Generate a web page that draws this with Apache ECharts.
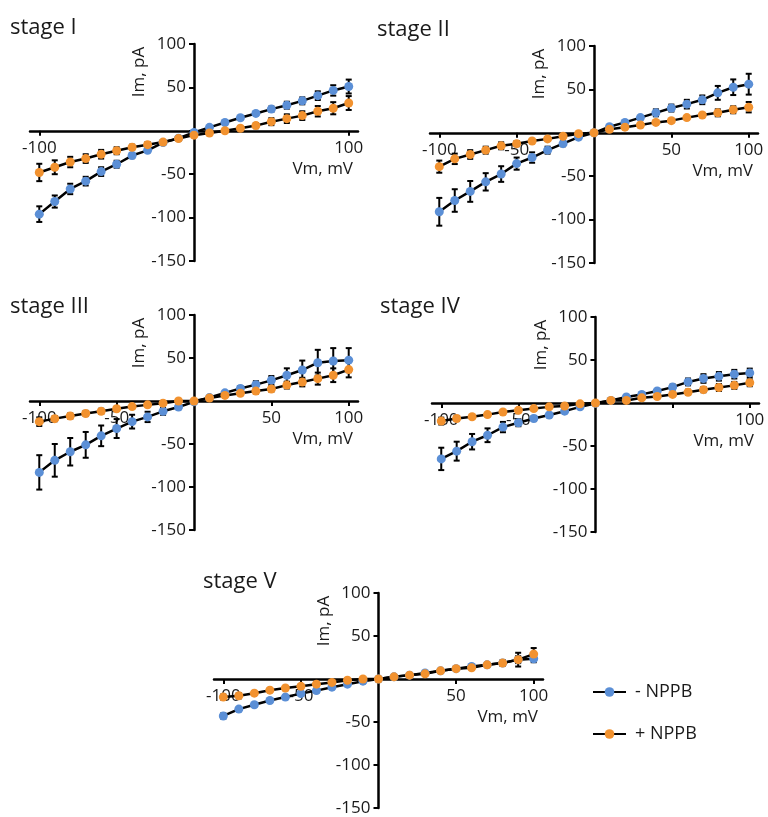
<!DOCTYPE html>
<html>
<head>
<meta charset="utf-8">
<script src="https://cdn.jsdelivr.net/npm/echarts@6/dist/echarts.min.js"></script>
<style>
  html, body { margin: 0; padding: 0; background: #fff; }
  #main { width: 768px; height: 817px; }
</style>
</head>
<body>
<div id="main"></div>
<script>
var voltages = [-100, -90, -80, -70, -60, -50, -40, -30, -20, -10, 0, 10, 20, 30, 40, 50, 60, 70, 80, 90, 100];

var stageNames = ['stage I', 'stage II', 'stage III', 'stage IV', 'stage V'];
var seriesNames = ['- NPPB', '+ NPPB'];
var yTicks = [-150, -100, -50, 0, 50, 100];

// x tick / label values per panel
var xTickValues = [[-100, 100], [-100, -50, 50, 100], [-100, -50, 50, 100], [-100, -50, 50, 100], [-100, -50, 50, 100]];
var xLabelValues = [[-100, 100], [-100, -50, 50, 100], [-100, -50, 50, 100], [-100, -50, 100], [-100, -50, 50, 100]];

// stage I
var blue1 = [-96, -81.5, -67, -58, -47, -38.5, -28.5, -22.5, -13.5, -8.5, -2, 4, 9.5, 15, 20, 25, 29.5, 34.5, 40.5, 46.5, 51];
var blue1Err = [9, 7, 6, 5, 5, 4, 3, 2, 2, 2, 1, 1, 1, 2, 2, 3, 4, 4, 5, 6, 8];
var orange1 = [-48, -42, -36, -32, -27, -23, -19, -16, -13, -9, -5, -2.5, 0, 3, 6, 10.5, 14, 17.5, 22.5, 26, 32];
var orange1Err = [10, 8, 6, 5, 5, 4, 3, 3, 2, 2, 1, 1, 1, 2, 3, 4, 5, 5, 6, 7, 8];

// stage II
var blue2 = [-91, -78, -67.5, -56.5, -47.5, -35.5, -28.5, -20, -12.5, -5, 0, 7, 12, 17.5, 23, 28.5, 33, 38, 46, 52.5, 56];
var blue2Err = [16, 13, 12, 10, 9, 7, 6, 4, 3, 2, 1, 2, 2, 2, 4, 4, 5, 5, 8, 9, 12];
var orange2 = [-39, -30, -25, -20, -15, -12.5, -9.5, -7, -4, -1, 0, 4, 6.5, 9, 12, 14, 17.5, 20.5, 23, 26.5, 29.5];
var orange2Err = [7, 6, 5, 4, 4, 3, 2, 2, 1, 1, 1, 1, 1, 2, 2, 2, 2, 2, 4, 4, 6];

// stage III
var blue3 = [-83, -69, -59, -51, -40.5, -32, -24, -18.5, -12, -7, -1, 4, 9.5, 14.5, 19, 24, 30, 36, 44.5, 46.5, 47.5];
var blue3Err = [20, 19, 16, 15, 12, 11, 8, 6, 4, 2, 1, 1, 2, 3, 4, 5, 8, 11, 15, 15, 14];
var orange3 = [-24, -20.5, -17.5, -14.5, -12, -9, -6.5, -4.5, -2.5, 0, 0, 3.5, 6.5, 9, 11.5, 14, 18.5, 22, 26, 30, 36.5];
var orange3Err = [5, 3, 3, 3, 3, 2, 2, 2, 1, 1, 1, 1, 1, 2, 3, 3, 4, 5, 7, 8, 9];

// stage IV
var blue4 = [-65, -56, -45, -37.5, -28, -23, -18, -14, -9.5, -4.5, -0.5, 3, 7, 10, 14, 18.5, 24.5, 28.5, 31, 33.5, 35];
var blue4Err = [13, 11, 9, 8, 6, 4, 3, 2, 2, 1, 1, 1, 1, 2, 2, 3, 4, 5, 5, 5, 5];
var orange4 = [-21, -18, -16, -13.5, -10.5, -8.5, -6.5, -4.5, -3.5, -1, 0, 3, 3, 6, 7.5, 10, 12.5, 15.5, 18, 20.5, 23.5];
var orange4Err = [4, 3, 2, 2, 2, 2, 2, 1, 1, 1, 1, 1, 1, 1, 2, 2, 3, 3, 4, 4, 4];

// stage V
var blue5 = [-43, -35, -30, -25, -21, -17, -13.5, -9.5, -6, -2.5, 0, 2.5, 4.5, 7, 9.5, 12, 14.5, 16.5, 18.5, 22.5, 23.5];
var blue5Err = [3, 2, 2, 2, 2, 2, 2, 1, 1, 1, 1, 1, 1, 1, 1, 1, 2, 2, 3, 4, 4];
var orange5 = [-21, -19.5, -16.5, -13, -10.5, -8.5, -6, -4, -1.5, 0, 0, 2.5, 4.5, 6, 9.5, 12, 13, 16.5, 18.5, 22.5, 29];
var orange5Err = [3, 3, 2, 2, 2, 2, 2, 1, 1, 1, 1, 1, 1, 1, 1, 1, 2, 2, 3, 8, 7];

var blueData = [blue1, blue2, blue3, blue4, blue5];
var blueErr = [blue1Err, blue2Err, blue3Err, blue4Err, blue5Err];
var orangeData = [orange1, orange2, orange3, orange4, orange5];
var orangeErr = [orange1Err, orange2Err, orange3Err, orange4Err, orange5Err];

var BLUE = '#5b8fd6';
var ORANGE = '#f2922f';
var FONT = '"Open Sans", "Noto Sans", sans-serif';
var X_MIN = -106, X_MAX = 106, Y_MIN = -150, Y_MAX = 100;

var grids = [
  { left: 30, top: 44, width: 328, height: 217 },
  { left: 430, top: 46, width: 328, height: 217 },
  { left: 30, top: 315, width: 328, height: 215 },
  { left: 432, top: 317, width: 327, height: 215 },
  { left: 214, top: 593, width: 329, height: 215 }
];
grids.forEach(function (g) { g.outerBoundsMode = 'none'; g.containLabel = false; });
var titlePos = [[10, 17], [377, 19], [10, 296], [380, 296], [203, 571]];

function renderErr(params, api) {
  var x = api.value(0);
  var lo = api.coord([x, api.value(1)]);
  var hi = api.coord([x, api.value(2)]);
  var w = 3;
  var st = { stroke: '#000', lineWidth: 2 };
  return {
    type: 'group',
    children: [
      { type: 'line', shape: { x1: hi[0], y1: hi[1], x2: lo[0], y2: lo[1] }, style: st },
      { type: 'line', shape: { x1: hi[0] - w, y1: hi[1], x2: hi[0] + w, y2: hi[1] }, style: st },
      { type: 'line', shape: { x1: lo[0] - w, y1: lo[1], x2: lo[0] + w, y2: lo[1] }, style: st }
    ]
  };
}

var chart = echarts.init(document.getElementById('main'));

var titles = [], xAxes = [], yAxes = [], series = [];
stageNames.forEach(function (name, i) {
  var g = grids[i];
  // axes cross at (0, 0): shift them inside the grid with offsets
  var yOff = -g.width * (0 - X_MIN) / (X_MAX - X_MIN);
  var xOff = -g.height * (0 - Y_MIN) / (Y_MAX - Y_MIN);
  titles.push({
    text: name, left: titlePos[i][0], top: titlePos[i][1], padding: 0,
    textStyle: { fontFamily: FONT, fontSize: 22, fontWeight: 'normal', color: '#1a1a1a' }
  });
  xAxes.push({
    type: 'value', gridIndex: i, min: X_MIN, max: X_MAX, position: 'bottom', offset: xOff,
    name: 'Vm, mV', nameLocation: 'end', nameGap: -5, nameMoveOverlap: false,
    nameTextStyle: { fontFamily: FONT, fontSize: 17, color: '#1a1a1a', align: 'right', verticalAlign: 'top', padding: [30, 0, 0, 0] },
    axisLine: { onZero: false, lineStyle: { color: '#000', width: 2.5 } },
    axisTick: { show: true, length: 5, customValues: xTickValues[i], lineStyle: { color: '#000', width: 2 } },
    axisLabel: { customValues: xLabelValues[i], margin: 9, fontFamily: FONT, fontSize: 17, color: '#1a1a1a' },
    splitLine: { show: false }
  });
  yAxes.push({
    type: 'value', gridIndex: i, min: Y_MIN, max: Y_MAX, interval: 50, position: 'left', offset: yOff,
    name: 'Im, pA', nameLocation: 'end', nameRotate: 90, nameGap: -28, nameMoveOverlap: false,
    nameTextStyle: { fontFamily: FONT, fontSize: 17, color: '#1a1a1a', align: 'center', verticalAlign: 'bottom', padding: [0, 0, 46, 0] },
    axisLine: { onZero: false, lineStyle: { color: '#000', width: 2.5 } },
    axisTick: { show: true, length: 5, customValues: yTicks, lineStyle: { color: '#000', width: 2 } },
    axisLabel: { customValues: yTicks.filter(function (v) { return v !== 0; }), margin: 8, fontFamily: FONT, fontSize: 17, color: '#1a1a1a' },
    splitLine: { show: false }
  });

  [[blueData[i], blueErr[i], BLUE, seriesNames[0]], [orangeData[i], orangeErr[i], ORANGE, seriesNames[1]]].forEach(function (s) {
    series.push({
      type: 'custom', xAxisIndex: i, yAxisIndex: i, z: 1,
      renderItem: renderErr,
      encode: { x: 0, y: [1, 2] },
      data: voltages.map(function (v, k) { return [v, s[0][k] - s[1][k], s[0][k] + s[1][k]]; }),
      silent: true
    });
    series.push({
      type: 'line', name: s[3], xAxisIndex: i, yAxisIndex: i, z: 3,
      data: voltages.map(function (v, k) { return [v, s[0][k]]; }),
      symbol: 'circle', symbolSize: 9,
      itemStyle: { color: s[2] },
      lineStyle: { color: '#000', width: 2.5 }
    });
  });
});

var option = {
  animation: false,
  backgroundColor: '#fff',
  title: titles,
  grid: grids,
  xAxis: xAxes,
  yAxis: yAxes,
  legend: {
    data: seriesNames, orient: 'vertical', left: 592, top: 683, padding: 0,
    itemWidth: 33, itemHeight: 12, itemGap: 24,
    textStyle: { fontFamily: FONT, fontSize: 18, color: '#1a1a1a', padding: [0, 0, 0, 4] }
  },
  series: series
};

chart.setOption(option);
</script>
</body>
</html>
